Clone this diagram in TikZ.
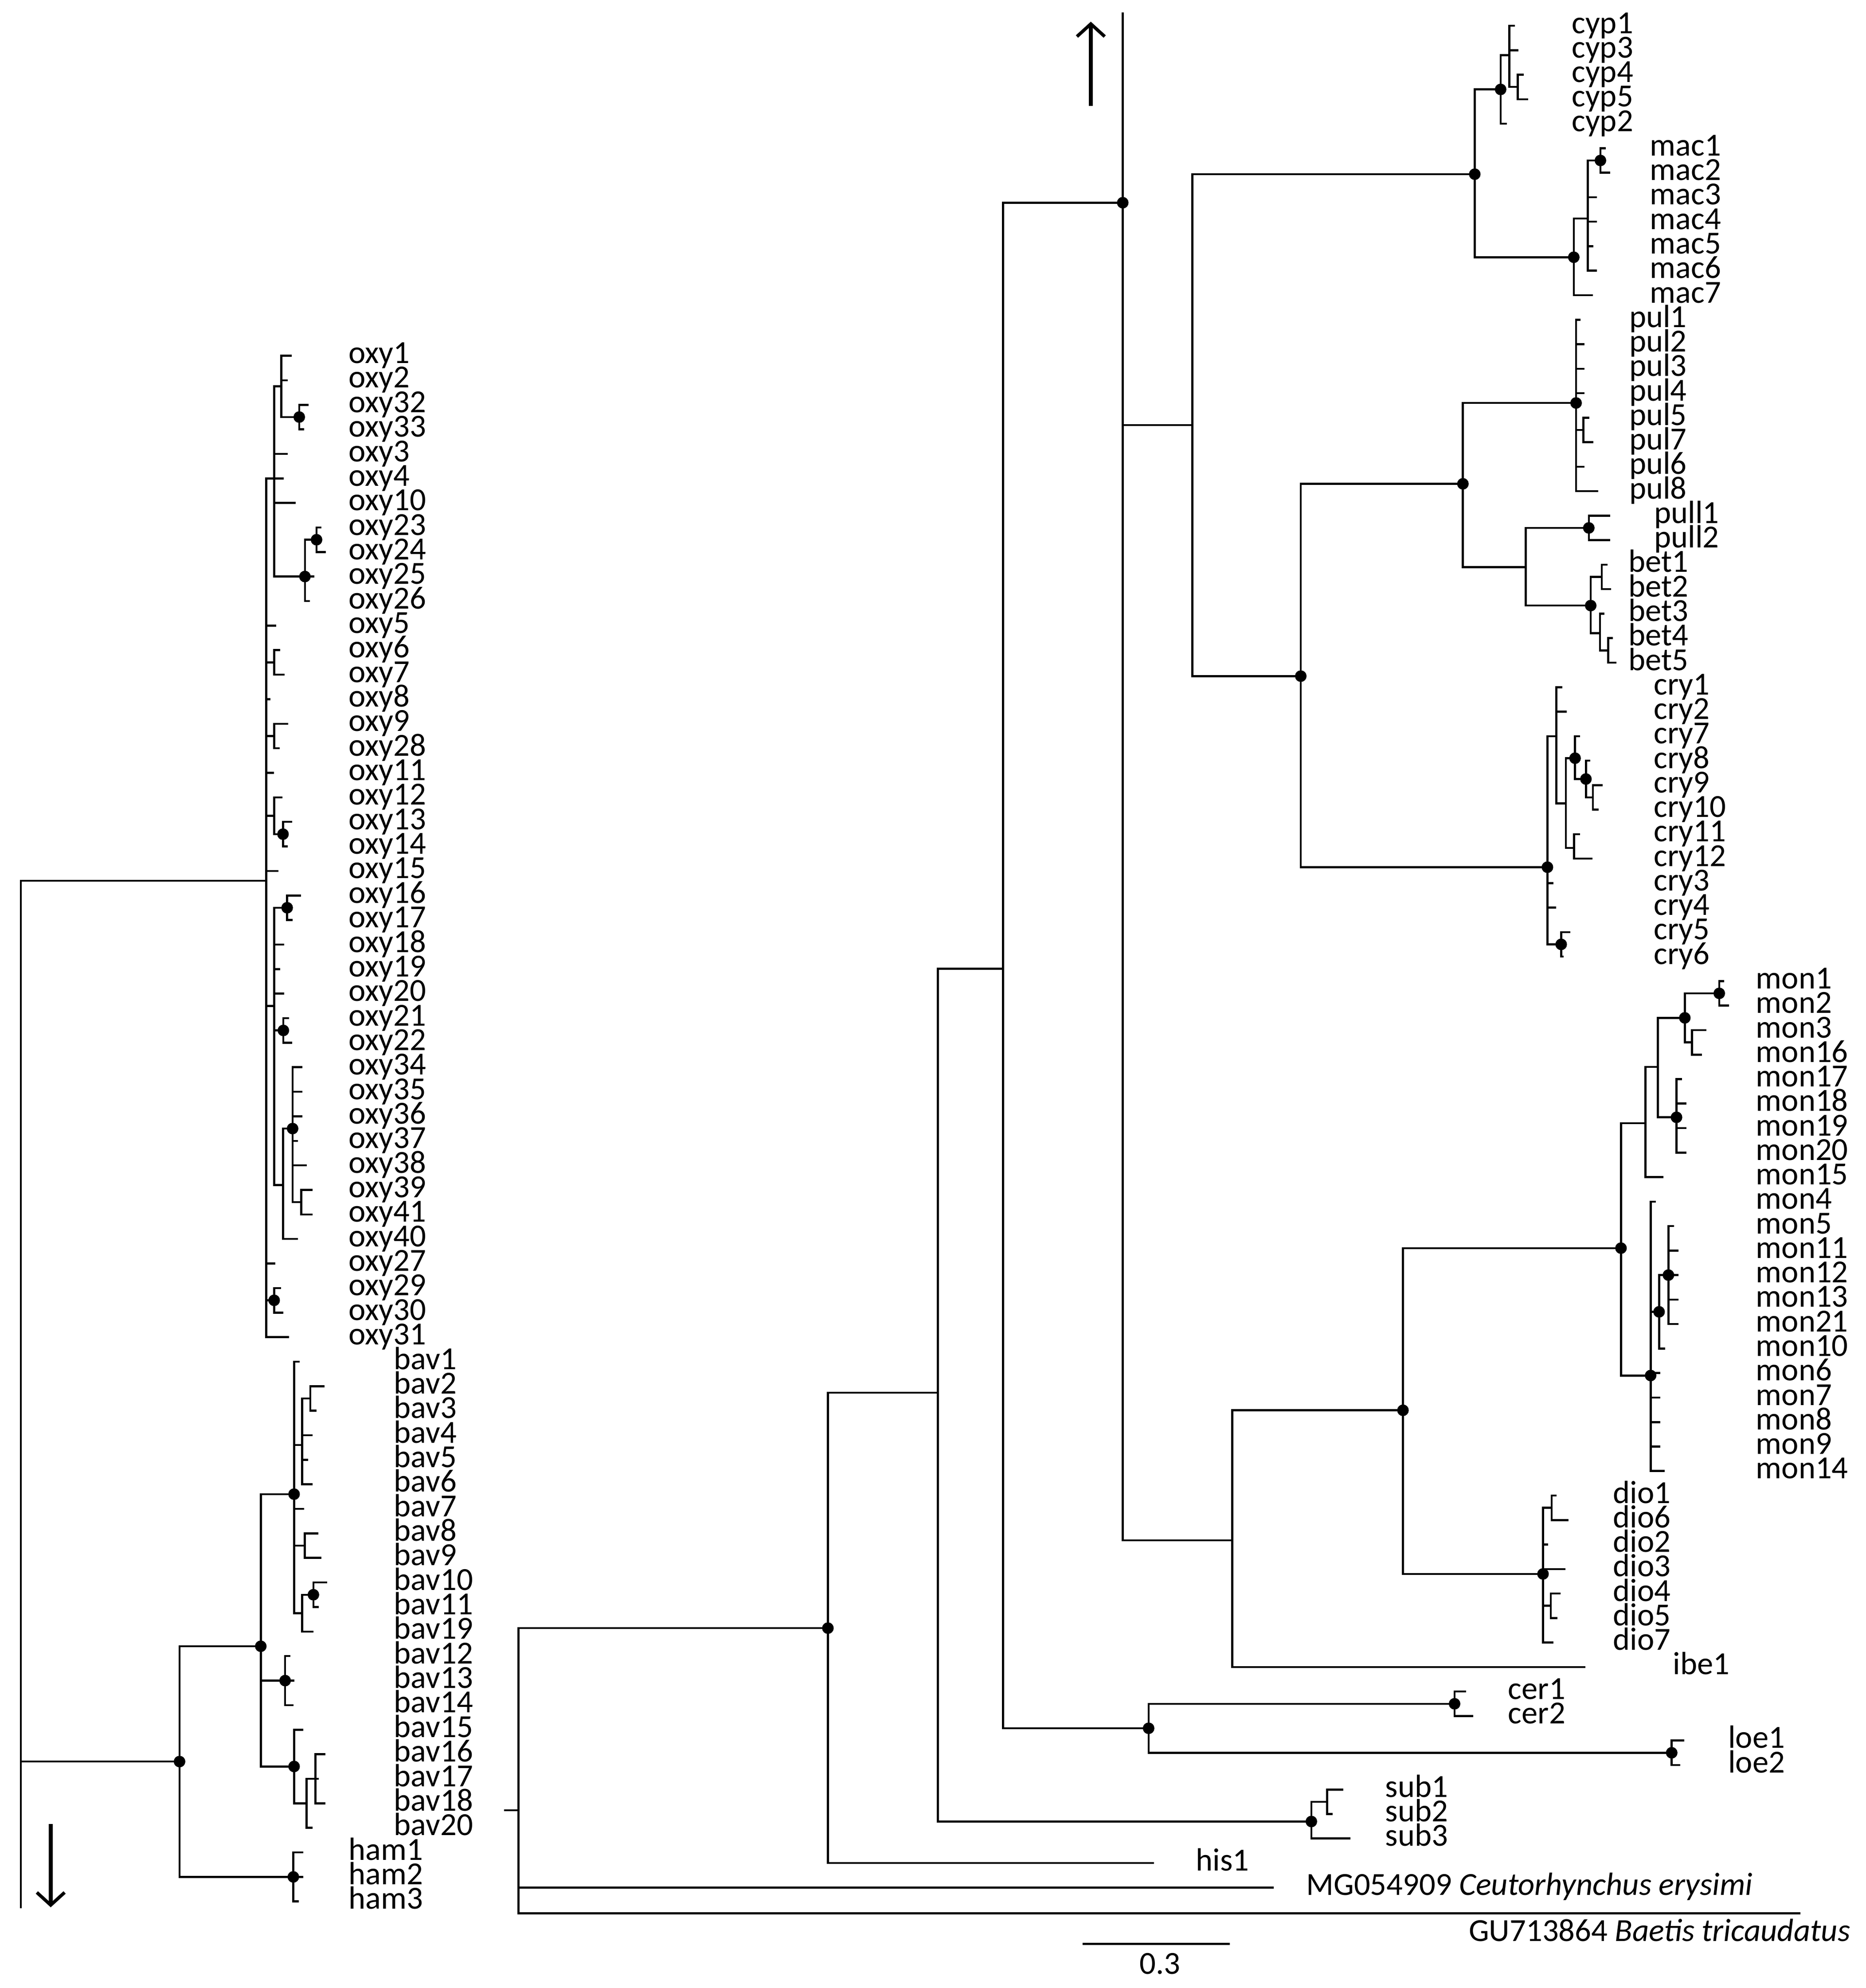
\documentclass[tikz,border=0pt]{standalone}
\usepackage{fontspec}
\setmainfont{Carlito}
\usetikzlibrary{arrows.meta}
\newcommand\LV[3]{\draw (#1,{lr(#2)}) -- (#1,{lr(#3)});}
\newcommand\LH[3]{\draw (#1,{lr(#2)}) -- (#3,{lr(#2)});}
\newcommand\LD[2]{\fill (#1,{lr(#2)}) circle (4.6);}
\newcommand\RV[3]{\draw (#1,{rr(#2)}) -- (#1,{rr(#3)});}
\newcommand\RH[3]{\draw (#1,{rr(#2)}) -- (#3,{rr(#2)});}
\newcommand\RD[2]{\fill (#1,{rr(#2)}) circle (4.6);}
\begin{document}
\begin{tikzpicture}[x=1pt,y=-1pt,line width=1.6pt,line cap=rect,
  declare function={lr(\i)=282+19.45*\i; rr(\j)=20.4+19.42*\j;},
  lab/.style={anchor=base west,inner sep=0pt,font=\fontsize{25.5}{25.5}\selectfont},
  bigarrow/.style={line width=3.2pt,line cap=butt,-{Straight Barb[length=10pt,width=22pt,line width=2.6pt]}}]
\useasboundingbox (0,0) rectangle (1479,1576);
% ================= LEFT TREE =================
\draw (16.5,698.2) -- (16.5,1512);
\draw[bigarrow] (40.2,1446) -- (40.2,1512);
\LH{16.5}{21.4}{211}
\LV{211}{5}{40}
\LV{217.3}{1.25}{9}
\LH{217.3}{1.25}{223}\LV{223}{0}{2.5}\LH{223}{0}{230.5}\LH{223}{1}{227.2}\LH{223}{2.5}{237.2}\LD{237.2}{2.5}
\LV{237.2}{2}{3}\LH{237.2}{2}{243.9}\LH{237.2}{3}{240.4}
\LH{217.3}{4}{227.3}\LH{211}{5}{224}\LH{217.3}{6}{233.6}
\LH{217.3}{9}{248.3}\LD{241.7}{9}\LV{241.7}{7.5}{10}\LH{241.7}{7.5}{250.9}\LD{250.9}{7.5}
\LV{250.9}{7}{8}\LH{250.9}{7}{253.8}\LH{250.9}{8}{257.3}\LH{241.7}{10}{244.7}
\LH{211}{11}{218}
\LH{211}{12.5}{217.3}\LV{217.3}{12}{13}\LH{217.3}{12}{221.3}\LH{217.3}{13}{224.8}
\LH{211}{14}{213.7}
\LH{211}{15.5}{217.3}\LV{217.3}{15}{16}\LH{217.3}{15}{227.6}\LH{217.3}{16}{220.8}
\LH{211}{17}{216.5}
\LH{211}{18.75}{217.3}\LV{217.3}{18}{19.5}\LH{217.3}{18}{223}\LH{217.3}{19.5}{224.3}\LD{224.3}{19.5}
\LV{224.3}{19}{20}\LH{224.3}{19}{230.9}\LH{224.3}{20}{227.4}
\LH{211}{21}{220}
\LH{211}{26.5}{217.3}\LV{217.3}{22.5}{33.8}
\LH{217.3}{22.5}{227.6}\LD{227.6}{22.5}\LV{227.6}{22}{23}\LH{227.6}{22}{237.8}\LH{227.6}{23}{231}
\LH{217.3}{24}{224.6}\LH{217.3}{25}{221.3}\LH{217.3}{26}{224.3}
\LH{217.3}{27.5}{224.6}\LD{224.6}{27.5}\LV{224.6}{27}{28}\LH{224.6}{27}{228.3}\LH{224.6}{28}{230.9}
\LH{217.3}{33.8}{224.3}\LV{224.3}{31.5}{36}\LH{224.3}{31.5}{231.9}\LD{231.9}{31.5}
\LV{231.9}{29}{34.5}\LH{231.9}{29}{239}\LH{231.9}{30}{239}\LH{231.9}{31}{239}\LH{231.9}{32}{235.5}\LH{231.9}{33}{242.4}
\LH{231.9}{34.5}{238.8}\LV{238.8}{34}{35}\LH{238.8}{34}{246.9}\LH{238.8}{35}{246.9}
\LH{224.3}{36}{235.2}
\LH{211}{37}{217.3}
\LH{211}{38.5}{217.3}\LD{217.3}{38.5}\LV{217.3}{38}{39}\LH{217.3}{38}{221.9}\LH{217.3}{39}{223.9}
\LH{211}{40}{228.4}
% bav / ham
\LH{16.5}{57.3}{142.3}\LD{142.3}{57.3}\LV{142.3}{52.6}{62}
\LH{142.3}{52.6}{206.7}\LD{206.7}{52.6}\LV{206.7}{46.4}{57.5}
\LH{206.7}{46.4}{233.1}\LD{233.1}{46.4}\LV{233.1}{41}{51.25}
\LH{233.1}{41}{236.6}
\LH{233.1}{44.4}{239.5}\LV{239.5}{42.5}{46}\LH{239.5}{42.5}{245.9}\LV{245.9}{42}{43}\LH{245.9}{42}{256.5}\LH{245.9}{43}{250.1}
\LH{239.5}{44}{246.8}\LH{239.5}{45}{243.5}\LH{239.5}{46}{246.8}
\LH{233.1}{47}{240.1}
\LH{233.1}{48.5}{241.6}\LV{241.6}{48}{49}\LH{241.6}{48}{251.6}\LH{241.6}{49}{254.1}
\LH{233.1}{51.25}{239.5}\LV{239.5}{50.5}{52}\LH{239.5}{50.5}{248.4}\LD{248.4}{50.5}\LV{248.4}{50}{51}\LH{248.4}{50}{258.6}\LH{248.4}{51}{251.8}\LH{239.5}{52}{247.8}
\LH{206.7}{54}{232.5}\LD{226}{54}\LV{226}{53}{55}\LH{226}{53}{229.5}\LH{226}{55}{231.9}
\LH{206.7}{57.5}{233.1}\LD{233.1}{57.5}\LV{233.1}{56}{59}\LH{233.1}{56}{239.5}\LH{233.1}{59}{243}
\LV{243}{58}{60}\LH{243}{60}{247.1}\LH{243}{58}{252}\LV{250.1}{57}{59}\LH{250.1}{57}{257.1}\LH{250.1}{59}{257.1}
\LH{142.3}{62}{239.5}\LD{232.5}{62}\LV{232.5}{61}{63}\LH{232.5}{61}{239.5}\LH{232.5}{63}{236}
% left labels
\foreach \n [count=\i from 0] in {oxy1,oxy2,oxy32,oxy33,oxy3,oxy4,oxy10,oxy23,oxy24,oxy25,oxy26,oxy5,oxy6,oxy7,oxy8,oxy9,oxy28,oxy11,oxy12,oxy13,oxy14,oxy15,oxy16,oxy17,oxy18,oxy19,oxy20,oxy21,oxy22,oxy34,oxy35,oxy36,oxy37,oxy38,oxy39,oxy41,oxy40,oxy27,oxy29,oxy30,oxy31}
  \node[lab] (\n) at (275.5,{lr(\i)+6}) {\n};
\foreach \n [count=\i from 41] in {bav1,bav2,bav3,bav4,bav5,bav6,bav7,bav8,bav9,bav10,bav11,bav19,bav12,bav13,bav14,bav15,bav16,bav17,bav18,bav20}
  \node[lab] (\n) at (311.5,{lr(\i)+6}) {\n};
\foreach \n [count=\i from 61] in {ham1,ham2,ham3}
  \node[lab] (\n) at (275.5,{lr(\i)+6}) {\n};
% ================= RIGHT TREE =================
\draw (889.9,10.8) -- (889.9,1221);
\fill (889.9,160.7) circle (4.6);
\draw[bigarrow] (864.6,84) -- (864.6,17.2);
\draw (889.9,160.7) -- (795.1,160.7) -- (795.1,1370.1);
\draw (795.1,768) -- (743.3,768) -- (743.3,1444);
\draw (743.3,1104) -- (656.2,1104) -- (656.2,{rr(75)});
\fill (656.2,1290.7) circle (4.6);
\draw (410.9,1290.7) -- (656.2,1290.7);
\draw (410.9,1290.7) -- (410.9,1516.8);
\draw (400.4,1435) -- (410.9,1435);
\RH{656.2}{75}{914}
\RH{410.9}{76}{1008.7}
\draw (410.9,1516.8) -- (1426.1,1516.8);
% sub
\draw (743.3,1444) -- (1039.4,1444);\fill (1039.4,1444) circle (4.6);
\RV{1039.4}{72.5}{74}\RH{1039.4}{72.5}{1051.9}\RV{1051.9}{72}{73}\RH{1051.9}{72}{1063.8}\RH{1051.9}{73}{1055.5}\RH{1039.4}{74}{1069.4}
% cer / loe
\RH{795.1}{69.5}{910.4}\RD{910.4}{69.5}\RV{910.4}{68.5}{70.5}
\RH{910.4}{68.5}{1152.9}\RD{1152.9}{68.5}\RV{1152.9}{68}{69}\RH{1152.9}{68}{1161.2}\RH{1152.9}{69}{1166.8}
\RH{910.4}{70.5}{1325}\RD{1325}{70.5}\RV{1325}{70}{71}\RH{1325}{70}{1334}\RH{1325}{71}{1331}
% upper clade
\draw (889.9,337) -- (945.1,337);
\RV{945.1}{6.06}{26.55}
\RH{945.1}{6.06}{1168.9}\RD{1168.9}{6.06}\RV{1168.9}{2.6}{9.45}
\RH{1168.9}{2.6}{1189.4}\RD{1189.4}{2.6}\RV{1189.4}{1.2}{4}\RH{1189.4}{4}{1193.5}\RH{1189.4}{1.2}{1196.3}
\RV{1196.3}{0}{2.5}\RH{1196.3}{0}{1199.8}\RH{1196.3}{1}{1202.7}\RH{1196.3}{2.5}{1203}\RV{1203}{2}{3}\RH{1203}{2}{1206.8}\RH{1203}{3}{1210.3}
\RH{1168.9}{9.45}{1247.4}\RD{1247.4}{9.45}\RV{1247.4}{7.87}{11}\RH{1247.4}{11}{1261.9}\RH{1247.4}{7.87}{1258.5}
\RV{1258.5}{5.5}{10}\RH{1258.5}{5.5}{1268.5}\RD{1268.5}{5.5}\RV{1268.5}{5}{6}\RH{1268.5}{5}{1272}\RH{1268.5}{6}{1275.5}
\RH{1258.5}{7}{1264.9}\RH{1258.5}{8}{1264.9}\RH{1258.5}{9}{1262}\RH{1258.5}{10}{1264.9}
\RH{945.1}{26.55}{1031}\RD{1031}{26.55}\RV{1031}{18.7}{34.35}
\RH{1031}{18.7}{1159.5}\RD{1159.5}{18.7}\RV{1159.5}{15.4}{22.1}
\RH{1159.5}{15.4}{1249.2}\RD{1249.2}{15.4}\RV{1249.2}{12}{19}
\RH{1249.2}{12}{1252}\RH{1249.2}{13}{1255}\RH{1249.2}{14}{1255}\RH{1249.2}{15}{1255}
\RH{1249.2}{16.5}{1255}\RV{1255}{16}{17}\RH{1255}{16}{1258.8}\RH{1255}{17}{1262.1}
\RH{1249.2}{18}{1255}\RH{1249.2}{19}{1266}
\RH{1159.5}{22.1}{1209.3}\RV{1209.3}{20.5}{23.67}
\RH{1209.3}{20.5}{1259.3}\RD{1259.3}{20.5}\RV{1259.3}{20}{21}\RH{1259.3}{20}{1275.4}\RH{1259.3}{21}{1275.4}
\RH{1209.3}{23.67}{1260.8}\RD{1260.8}{23.67}\RV{1260.8}{22.5}{24.8}
\RH{1260.8}{22.5}{1269.5}\RV{1269.5}{22}{23}\RH{1269.5}{22}{1273.2}\RH{1269.5}{23}{1276.1}
\RH{1260.8}{24.8}{1268.1}\RV{1268.1}{24}{25.5}\RH{1268.1}{24}{1271}\RH{1268.1}{25.5}{1274.6}\RV{1274.6}{25}{26}\RH{1274.6}{25}{1277.5}\RH{1274.6}{26}{1280.4}
\RH{1031}{34.35}{1226.5}\RD{1226.5}{34.35}\RV{1226.5}{29}{37.5}
\RH{1226.5}{29}{1233.5}\RV{1233.5}{27}{31.75}\RH{1233.5}{27}{1237.4}\RH{1233.5}{28}{1241.1}
\RH{1233.5}{31.75}{1241.1}\RV{1241.1}{29.9}{33.56}
\RH{1241.1}{29.9}{1248.4}\RD{1248.4}{29.9}\RV{1248.4}{29}{30.75}\RH{1248.4}{29}{1251.6}
\RH{1248.4}{30.75}{1257}\RD{1257}{30.75}\RV{1257}{30}{31.5}\RH{1257}{30}{1259.6}
\RH{1257}{31.5}{1262.5}\RV{1262.5}{31}{32}\RH{1262.5}{31}{1269.5}\RH{1262.5}{32}{1266.3}
\RH{1241.1}{33.56}{1247.7}\RV{1247.7}{33}{34}\RH{1247.7}{33}{1251.4}\RH{1247.7}{34}{1261.3}
\RH{1226.5}{35}{1230.4}\RH{1226.5}{36}{1232.5}
\RH{1226.5}{37.5}{1237.4}\RD{1237.4}{37.5}\RV{1237.4}{37}{38}\RH{1237.4}{37}{1243.7}\RH{1237.4}{38}{1238.4}
% lower clade
\draw (889.9,1221) -- (976.7,1221);
\draw (976.7,1118) -- (976.7,{rr(67)});
\RH{976.7}{67}{1255.6}
\draw (976.7,1118) -- (1112,1118);\fill (1112,1118) circle (4.6);
\RV{1112}{49.9}{63.2}
\RH{1112}{49.9}{1284.8}\RD{1284.8}{49.9}\RV{1284.8}{44.8}{55.1}
\RH{1284.8}{44.8}{1304.2}\RV{1304.2}{42.5}{47}\RH{1304.2}{47}{1317.6}
\RH{1304.2}{42.5}{1314.1}\RV{1314.1}{40.5}{44.56}
\RH{1314.1}{40.5}{1335.4}\RD{1335.4}{40.5}\RV{1335.4}{39.5}{41.5}
\RH{1335.4}{39.5}{1362.7}\RD{1362.7}{39.5}\RV{1362.7}{39}{40}\RH{1362.7}{39}{1365.9}\RH{1362.7}{40}{1369.7}
\RH{1335.4}{41.5}{1341.1}\RV{1341.1}{41}{42}\RH{1341.1}{41}{1351.6}\RH{1341.1}{42}{1348.3}
\RH{1314.1}{44.56}{1328.8}\RD{1328.8}{44.56}\RV{1328.8}{43}{46}
\RH{1328.8}{43}{1332.3}\RH{1328.8}{44}{1335.8}\RH{1328.8}{45}{1335.8}\RH{1328.8}{46}{1335.8}
\RH{1284.8}{55.1}{1308.3}\RD{1308.3}{55.1}\RV{1308.3}{48}{59}
\RH{1308.3}{48}{1311.6}
\RH{1308.3}{52.5}{1315}\RD{1315}{52.5}\RV{1315}{51}{54}\RH{1315}{54}{1319}
\RH{1315}{51}{1322.4}\RD{1322.4}{51}\RV{1322.4}{49}{53}
\RH{1322.4}{49}{1326.2}\RH{1322.4}{50}{1329.5}\RH{1322.4}{51}{1329.5}\RH{1322.4}{52}{1329.5}\RH{1322.4}{53}{1329.5}
\RH{1308.3}{55}{1315.1}\RH{1308.3}{56}{1315.1}\RH{1308.3}{57}{1315.1}\RH{1308.3}{58}{1315.1}\RH{1308.3}{59}{1318.6}
\RH{1112}{63.2}{1223}\RD{1223}{63.2}\RV{1223}{60.5}{66}
\RH{1223}{60.5}{1229.8}\RV{1229.8}{60}{61}\RH{1229.8}{60}{1233}\RH{1229.8}{61}{1242.5}
\RH{1223}{62}{1226.4}\RH{1223}{63}{1240.1}
\RH{1223}{64.5}{1229.2}\RV{1229.2}{64}{65}\RH{1229.2}{64}{1236}\RH{1229.2}{65}{1233.6}
\RH{1223}{66}{1230.4}
% right labels
\foreach \n [count=\i from 0] in {cyp1,cyp3,cyp4,cyp5,cyp2}
  \node[lab] (\n) at (1245,{rr(\i)+6}) {\n};
\foreach \n [count=\i from 5] in {mac1,mac2,mac3,mac4,mac5,mac6,mac7}
  \node[lab] (\n) at (1307,{rr(\i)+6}) {\n};
\foreach \n [count=\i from 12] in {pul1,pul2,pul3,pul4,pul5,pul7,pul6,pul8}
  \node[lab] (\n) at (1290.6,{rr(\i)+6}) {\n};
\foreach \n [count=\i from 20] in {pull1,pull2}
  \node[lab] (\n) at (1310.4,{rr(\i)+6}) {\n};
\foreach \n [count=\i from 22] in {bet1,bet2,bet3,bet4,bet5}
  \node[lab] (\n) at (1290,{rr(\i)+6}) {\n};
\foreach \n [count=\i from 27] in {cry1,cry2,cry7,cry8,cry9,cry10,cry11,cry12,cry3,cry4,cry5,cry6}
  \node[lab] (\n) at (1310,{rr(\i)+6}) {\n};
\foreach \n [count=\i from 39] in {mon1,mon2,mon3,mon16,mon17,mon18,mon19,mon20,mon15,mon4,mon5,mon11,mon12,mon13,mon21,mon10,mon6,mon7,mon8,mon9,mon14}
  \node[lab] (\n) at (1391,{rr(\i)+6}) {\n};
\foreach \n [count=\i from 60] in {dio1,dio6,dio2,dio3,dio4,dio5,dio7}
  \node[lab] (\n) at (1277.8,{rr(\i)+6}) {\n};
\node[lab] (ibe1) at (1325.3,{rr(67)+6}) {ibe1};
\foreach \n [count=\i from 68] in {cer1,cer2}
  \node[lab] (\n) at (1194.6,{rr(\i)+6}) {\n};
\foreach \n [count=\i from 70] in {loe1,loe2}
  \node[lab] (\n) at (1369,{rr(\i)+6}) {\n};
\foreach \n [count=\i from 72] in {sub1,sub2,sub3}
  \node[lab] (\n) at (1097.2,{rr(\i)+6}) {\n};
\node[lab] (his1) at (947,{rr(75)+6}) {his1};
\node[lab] (mg) at (1034.5,{rr(76)+6}) {MG054909 \textit{Ceutorhynchus erysimi}};
\node[lab] (gu) at (1163.4,1539) {GU713864 \textit{Baetis tricaudatus}};
% scale bar
\coordinate (sb1) at (858.9,1541);
\coordinate (sb2) at (973.9,1541);
\draw (sb1) -- (sb2);
\node[lab,anchor=base] (scale) at (919.5,1565) {0.3};
\end{tikzpicture}
\end{document}
